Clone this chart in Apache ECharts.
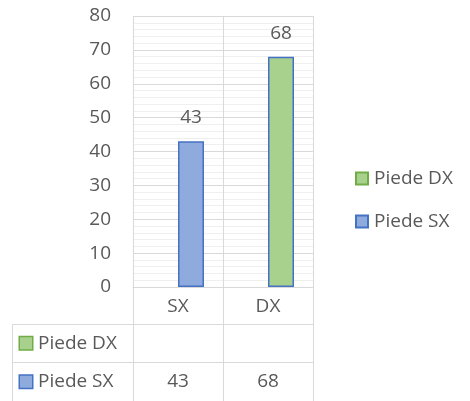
<!DOCTYPE html>
<html>
<head>
<meta charset="utf-8">
<script src="https://cdn.jsdelivr.net/npm/echarts@6/dist/echarts.min.js"></script>
<style>
html,body{margin:0;padding:0;background:#fff;}
#chart{width:470px;height:401px;}
</style>
</head>
<body>
<div id="chart"></div>
<script>
// ---- data ----
const categories = ['SX', 'DX'];
const seriesNames = ['Piede DX', 'Piede SX'];
const piedeDX = [null, null];
const piedeSX = [43, 68];
const yMin = 0, yMax = 80, yStep = 10;

// ---- styles ----
const FONT = 'Open Sans';
const FS = 19;
const TXT = '#595959';
const GRID = '#d9d9d9';
const BLUE_FILL = '#8faadc', BLUE_LINE = '#4472c4';
const GREEN_FILL = '#a9d18e', GREEN_LINE = '#70ad47';

// layout
const G = {left: 133, top: 16, width: 180, height: 271};
const T = {left: 133, top: 324, width: 180, height: 78};
const TABLE_LEFT = 12;

const chart = echarts.init(document.getElementById('chart'), null, {renderer: 'canvas'});

const rowLabelRich = {
  g: {width: 12, height: 12, backgroundColor: GREEN_FILL, borderColor: GREEN_LINE, borderWidth: 1.5},
  b: {width: 12, height: 12, backgroundColor: BLUE_FILL, borderColor: BLUE_LINE, borderWidth: 1.5},
  t: {fontFamily: FONT, fontSize: FS, color: TXT, padding: [0, 0, 0, 6]}
};

const tableRows = ['Piede SX', 'Piede DX'];
const tableValues = {'Piede SX': piedeSX, 'Piede DX': piedeDX};

function tableData(row) {
  return categories.map((c, i) => [c, row, tableValues[row][i]]);
}

const tableLabel = {
  show: true, position: 'inside', fontFamily: FONT, fontSize: FS, color: TXT,
  formatter: p => p.value[2] == null ? '' : String(p.value[2])
};

const option = {
  backgroundColor: '#fff',
  animation: false,
  textStyle: {fontFamily: FONT},
  legend: {
    data: seriesNames,
    orient: 'vertical',
    left: 355,
    top: 169,
    itemWidth: 12,
    itemHeight: 12,
    itemGap: 24,
    padding: 0,
    icon: 'rect',
    textStyle: {fontFamily: FONT, fontSize: FS, color: TXT, padding: [0, 0, 0, 1]}
  },
  grid: [
    {left: G.left, top: G.top, width: G.width, height: G.height},
    {left: T.left, top: T.top, width: T.width, height: T.height}
  ],
  xAxis: [
    {
      type: 'category', gridIndex: 0, data: categories,
      axisLine: {show: true, lineStyle: {color: GRID}},
      axisTick: {show: true, length: T.top - (G.top + G.height), lineStyle: {color: GRID}},
      axisLabel: {fontFamily: FONT, fontSize: FS, color: TXT, margin: 10},
      splitLine: {show: true, lineStyle: {color: GRID}}
    },
    {
      type: 'category', gridIndex: 1, data: categories,
      axisLine: {show: false}, axisTick: {show: false}, axisLabel: {show: false},
      splitLine: {show: true, lineStyle: {color: GRID}}
    }
  ],
  yAxis: [
    {
      type: 'value', gridIndex: 0, min: yMin, max: yMax, interval: yStep,
      axisLine: {show: false}, axisTick: {show: false},
      axisLabel: {fontFamily: FONT, fontSize: FS, color: TXT, margin: 22},
      splitLine: {show: true, lineStyle: {color: GRID}},
      minorTick: {show: false, splitNumber: 5},
      minorSplitLine: {show: true, lineStyle: {color: '#efefef'}}
    },
    {
      type: 'category', gridIndex: 1, data: tableRows,
      axisLine: {show: false},
      axisTick: {show: true, length: T.left - TABLE_LEFT, lineStyle: {color: GRID}},
      splitLine: {show: true, lineStyle: {color: GRID}},
      axisLabel: {
        align: 'left', margin: T.left - 20,
        formatter: v => (v === 'Piede DX' ? '{g|}' : '{b|}') + '{t|' + v + '}',
        rich: rowLabelRich
      }
    }
  ],
  graphic: [{
    type: 'line', silent: true,
    shape: {x1: TABLE_LEFT + 0.5, y1: T.top, x2: TABLE_LEFT + 0.5, y2: T.top + T.height},
    style: {stroke: GRID, lineWidth: 1}
  }],
  series: [
    {
      name: 'Piede DX', type: 'bar', xAxisIndex: 0, yAxisIndex: 0,
      barWidth: 26, barGap: '0%',
      itemStyle: {color: GREEN_FILL, borderColor: GREEN_LINE, borderWidth: 1.5},
      data: piedeDX
    },
    {
      name: 'Piede SX', type: 'bar', xAxisIndex: 0, yAxisIndex: 0,
      barWidth: 26, barGap: '0%',
      itemStyle: {color: BLUE_FILL, borderColor: BLUE_LINE, borderWidth: 1.5},
      label: {show: true, position: 'top', distance: 14, fontFamily: FONT, fontSize: FS, color: TXT},
      data: piedeSX.map((v, i) => i === 1 ? {value: v, itemStyle: {color: GREEN_FILL, borderColor: BLUE_LINE}} : v)
    },
    {
      name: 'tableSX', type: 'scatter', xAxisIndex: 1, yAxisIndex: 1,
      symbolSize: 0, silent: true, itemStyle: {opacity: 1},
      label: tableLabel,
      data: tableData('Piede SX')
    },
    {
      name: 'tableDX', type: 'scatter', xAxisIndex: 1, yAxisIndex: 1,
      symbolSize: 0, silent: true, itemStyle: {opacity: 1},
      label: tableLabel,
      data: tableData('Piede DX')
    }
  ]
};
chart.setOption(option);
</script>
</body>
</html>
